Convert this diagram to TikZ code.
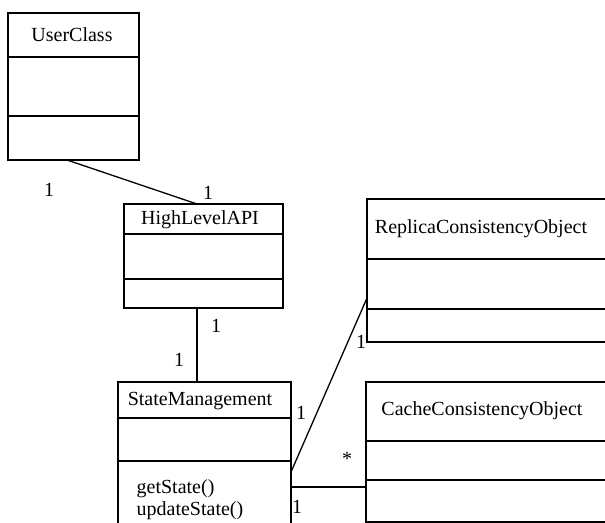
\documentclass[tikz,border=0pt]{standalone}
\usepackage{fontspec}
\setmainfont{Liberation Serif}
\usetikzlibrary{calc,positioning}

\begin{document}
\begin{tikzpicture}[
  x=0.5pt, y=-0.5pt,
  line width=0.65pt,
  classbox/.style={draw, rectangle, anchor=north west, inner sep=0pt, outer sep=0pt},
  title/.style={inner sep=0pt},
  mult/.style={inner sep=0pt},
  methods/.style={anchor=west, align=left, inner sep=0pt, font=\fontsize{10}{11}\selectfont}
]
\useasboundingbox (0,0) rectangle (605,523);
\clip (0,0) rectangle (605,523);

% class boxes
\node[classbox, minimum width=65.5pt, minimum height=73.5pt] (uc) at (8,13) {};
\node[classbox, minimum width=79.5pt, minimum height=52pt] (hla) at (124,204) {};
\node[classbox, minimum width=86.5pt, minimum height=81.5pt] (sm) at (118,382) {};
\node[classbox, minimum width=129pt, minimum height=71.5pt] (rco) at (367,199) {};
\node[classbox, minimum width=129.5pt, minimum height=70pt] (cco) at (366,382) {};

% compartments
\draw (uc.west |- 0,57) -- (uc.east |- 0,57);
\draw (uc.west |- 0,116) -- (uc.east |- 0,116);
\draw (hla.west |- 0,234) -- (hla.east |- 0,234);
\draw (hla.west |- 0,279) -- (hla.east |- 0,279);
\draw (sm.west |- 0,418) -- (sm.east |- 0,418);
\draw (sm.west |- 0,461) -- (sm.east |- 0,461);
\draw (rco.west |- 0,259) -- (rco.east |- 0,259);
\draw (rco.west |- 0,309) -- (rco.east |- 0,309);
\draw (cco.west |- 0,441) -- (cco.east |- 0,441);
\draw (cco.west |- 0,480) -- (cco.east |- 0,480);

% class names
\node[title] (uc-name) at (72,35) {UserClass};
\node[title] (hla-name) at (200,220) {HighLevelAPI};
\node[title] (sm-name) at (200,401) {StateManagement};
\node[title] (rco-name) at (481,229) {ReplicaConsistencyObject};
\node[title] (cco-name) at (482,411) {CacheConsistencyObject};
\node[methods] (sm-ops) at (136,500) {getState()\\updateState()};

% associations
\coordinate (uc-end) at ($(uc.south)+(-6.5,0)$);
\coordinate (hla-top) at ($(hla.north)+(-6.5,0)$);
\coordinate (hla-end) at ($(hla.south)+(-6.5,0)$);
\draw (uc-end) -- (hla-top);
\draw (hla-end) -- (hla-end |- sm.north);
\draw (sm.east |- 0,472) -- (rco.west |- 0,298);
\draw (sm.east |- 0,487) -- (cco.west |- 0,487);

% multiplicities
\node[mult] (m1) at (49,190) {1};
\node[mult] (m2) at (208,193) {1};
\node[mult] (m3) at (216,326) {1};
\node[mult] (m4) at (179,360) {1};
\node[mult] (m5) at (301,413) {1};
\node[mult] (m6) at (361,342) {1};
\node[mult] (m7) at (347,459) {*};
\node[mult] (m8) at (297,507) {1};
\end{tikzpicture}
\end{document}
